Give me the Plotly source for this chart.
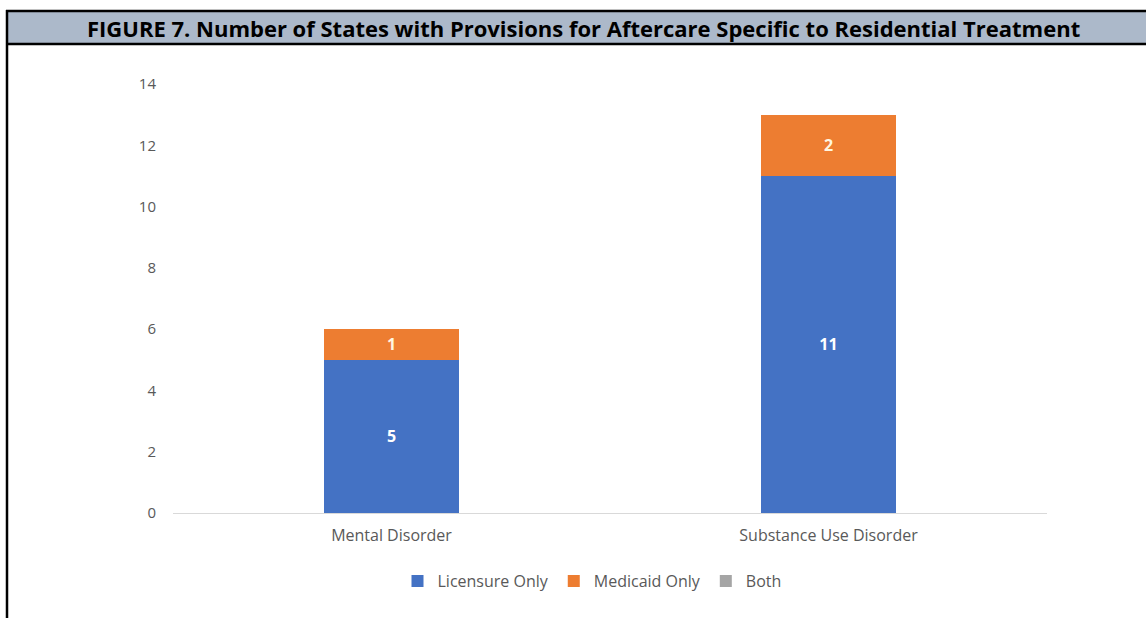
import plotly.graph_objects as go

categories = ["Mental Disorder", "Substance Use Disorder"]
licensure_only = [5, 11]
medicaid_only = [1, 2]
both = [0, 0]
y_ticks = [0, 2, 4, 6, 8, 10, 12, 14]
title_text = "FIGURE 7. Number of States with Provisions for Aftercare Specific to Residential Treatment"

W, H = 1146, 618
L, R, T, B = 173, 1047, 84, 513


def px(x):
    return (x - L) / (R - L)


def py(y):
    return (B - y) / (B - T)


fig = go.Figure()
fig.add_trace(go.Bar(
    x=categories, y=licensure_only, name="Licensure Only",
    marker=dict(color="#4472C4", line=dict(width=0)),
    text=licensure_only, textposition="inside", insidetextanchor="middle",
    textfont=dict(color="#FFFFFF", size=16, family="Open Sans", weight="bold"),
))
fig.add_trace(go.Bar(
    x=categories, y=medicaid_only, name="Medicaid Only",
    marker=dict(color="#ED7D31", line=dict(width=0)),
    text=medicaid_only, textposition="inside", insidetextanchor="middle",
    textfont=dict(color="#FFF6E0", size=16, family="Open Sans", weight="bold"),
))
fig.add_trace(go.Bar(
    x=categories, y=both, name="Both",
    marker=dict(color="#A5A5A5", line=dict(width=0)),
))

shapes = [
    # title band
    dict(type="rect", xref="paper", yref="paper",
         x0=px(7), x1=px(1150), y0=py(11), y1=py(44),
         fillcolor="#ACB9CA", line=dict(width=0), layer="below"),
    dict(type="line", xref="paper", yref="paper",
         x0=px(6), x1=px(1150), y0=py(11), y1=py(11),
         line=dict(color="#000000", width=2.5)),
    dict(type="line", xref="paper", yref="paper",
         x0=px(6), x1=px(1150), y0=py(44), y1=py(44),
         line=dict(color="#000000", width=2.5)),
    dict(type="line", xref="paper", yref="paper",
         x0=px(7), x1=px(7), y0=py(10), y1=py(625),
         line=dict(color="#000000", width=2.5)),
]

fig.update_layout(
    width=W, height=H,
    margin=dict(l=L, r=W - R, t=T, b=H - B, pad=0),
    barmode="stack",
    bargap=0.69,
    plot_bgcolor="#FFFFFF",
    paper_bgcolor="#FFFFFF",
    font=dict(family="Open Sans", color="#595959", size=16),
    shapes=shapes,
    annotations=[dict(
        text="<b>" + title_text + "</b>", xref="paper", yref="paper",
        x=px(583), y=py(28), xanchor="center", yanchor="middle",
        showarrow=False, font=dict(family="Open Sans", size=22, color="#000000"),
    )],
    legend=dict(
        orientation="h", xref="paper", yref="paper",
        x=px(592), y=py(581), xanchor="center", yanchor="middle",
        font=dict(size=16, color="#595959"), traceorder="normal",
        itemwidth=30,
    ),
    xaxis=dict(
        showgrid=False, showline=True, linecolor="#D9D9D9", linewidth=1,
        ticks="", ticklabelstandoff=8, tickfont=dict(size=16, color="#595959"),
    ),
    yaxis=dict(
        range=[0, 14], tickvals=y_ticks, showgrid=False, showline=False,
        zeroline=False, ticks="", ticklabelstandoff=16,
        tickfont=dict(size=15, color="#595959"),
    ),
)

fig.write_html("out.html")
